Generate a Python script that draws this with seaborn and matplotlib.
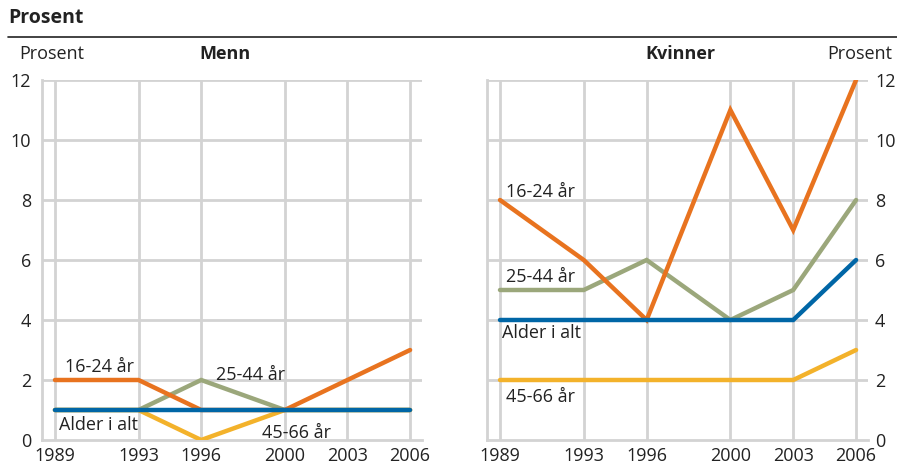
import numpy as np
import pandas as pd
import matplotlib.pyplot as plt
import seaborn as sns

years = [1989, 1993, 1996, 2000, 2003, 2006]
groups = ["25-44 år", "45-66 år", "16-24 år", "Alder i alt"]

# Menn
menn_1624 = [2, 2, 1, 1, 2, 3]
menn_2544 = [1, 1, 2, 1, 1, 1]
menn_4566 = [1, 1, 0, 1, 1, 1]
menn_alt = [1, 1, 1, 1, 1, 1]

# Kvinner
kvin_1624 = [8, 6, 4, 11, 7, 12]
kvin_2544 = [5, 5, 6, 4, 5, 8]
kvin_4566 = [2, 2, 2, 2, 2, 3]
kvin_alt = [4, 4, 4, 4, 4, 6]

yticks = [0, 2, 4, 6, 8, 10, 12]

colors = {"16-24 år": "#e8731f", "25-44 år": "#9ba77b",
          "45-66 år": "#f3b22b", "Alder i alt": "#0066a6"}
grid_c = "#d3d3d3"
txt_c = "#222222"


def long_df(d):
    rows = []
    for g, vals in d.items():
        for y, v in zip(years, vals):
            rows.append({"år": y, "gruppe": g, "prosent": v})
    return pd.DataFrame(rows)


df_m = long_df({"16-24 år": menn_1624, "25-44 år": menn_2544,
                "45-66 år": menn_4566, "Alder i alt": menn_alt})
df_k = long_df({"16-24 år": kvin_1624, "25-44 år": kvin_2544,
                "45-66 år": kvin_4566, "Alder i alt": kvin_alt})

sns.set_style("white")
plt.rcParams['font.family'] = ['Open Sans', 'DejaVu Sans']

fig = plt.figure(figsize=(8.97, 4.67), dpi=100)
W, H = 897, 467

def px_axes(x0, x1, y0, y1):
    return fig.add_axes([x0 / W, 1 - y1 / H, (x1 - x0) / W, (y1 - y0) / H])

ax_m = px_axes(42, 422, 80, 440)
ax_k = px_axes(487, 868, 80, 440)

for ax, df in [(ax_m, df_m), (ax_k, df_k)]:
    for yr in years:
        ax.axvline(yr, color=grid_c, lw=2, zorder=0)
    for yt in yticks[1:]:
        ax.axhline(yt, color=grid_c, lw=2, zorder=0)
    sns.lineplot(data=df, x="år", y="prosent", hue="gruppe", hue_order=groups,
                 palette=colors, linewidth=3.2, legend=False, ax=ax,
                 solid_capstyle="round", solid_joinstyle="miter", zorder=3)
    ax.set_xlim(1988.38, 2006.57)
    ax.set_ylim(0, 12)
    ax.set_xticks(years)
    ax.set_yticks(yticks)
    ax.set_xlabel("")
    ax.set_ylabel("")
    ax.tick_params(length=0, labelsize=13, colors=txt_c)
    ax.tick_params(axis="x", pad=5)
    for s in ["top", "right"]:
        ax.spines[s].set_visible(False)
    for s in ["left", "bottom"]:
        ax.spines[s].set_color(grid_c)
        ax.spines[s].set_linewidth(2)

ax_k.yaxis.tick_right()
ax_k.tick_params(axis="y", pad=5)
ax_m.tick_params(axis="y", pad=8)

# line labels
lab = dict(fontsize=13, color=txt_c, va="center")
ax_m.text(1989.5, 2.42, "16-24 år", **lab)
ax_m.text(1996.7, 2.15, "25-44 år", **lab)
ax_m.text(1989.2, 0.5, "Alder i alt", **lab)
ax_m.text(1998.9, 0.25, "45-66 år", **lab)
ax_k.text(1989.3, 8.28, "16-24 år", **lab)
ax_k.text(1989.3, 5.42, "25-44 år", **lab)
ax_k.text(1989.1, 3.55, "Alder i alt", **lab)
ax_k.text(1989.3, 1.45, "45-66 år", **lab)

# headings
fig.text(19 / W, 1 - 54 / H, "Prosent", fontsize=13, color=txt_c, va="center")
fig.text(225 / W, 1 - 54 / H, "Menn", fontsize=13, fontweight="bold",
         color=txt_c, va="center", ha="center")
fig.text(680 / W, 1 - 54 / H, "Kvinner", fontsize=13, fontweight="bold",
         color=txt_c, va="center", ha="center")
fig.text(892 / W, 1 - 54 / H, "Prosent", fontsize=13, color=txt_c,
         va="center", ha="right")
fig.text(8 / W, 1 - 18 / H, "Prosent", fontsize=14, fontweight="bold",
         color=txt_c, va="center")
fig.add_artist(plt.Line2D([8 / W, 1], [1 - 37 / H, 1 - 37 / H],
                          color=txt_c, lw=1.2))

fig.savefig("out.png", dpi=100)
